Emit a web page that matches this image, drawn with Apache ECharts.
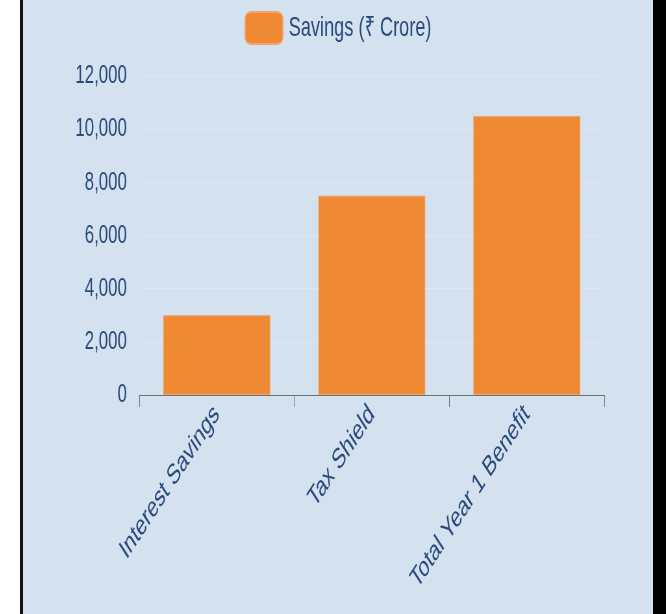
<!DOCTYPE html>
<html>
<head>
<meta charset="utf-8">
<title>Savings</title>
<script src="https://cdn.jsdelivr.net/npm/echarts@6/dist/echarts.min.js"></script>
<style>
  html, body { margin: 0; padding: 0; background: #ffffff; width: 666px; height: 614px; overflow: hidden; }
  #edge-left { position: absolute; left: 20px; top: 0; width: 3px; height: 614px; background: #111111; }
  #edge-right { position: absolute; left: 653px; top: 0; width: 13px; height: 614px; background: #000000; }
  #wrap { position: absolute; left: 23px; top: 0; width: 630px; height: 614px; overflow: hidden; }
  /* the chart is laid out wide and compressed horizontally into the frame */
  #chart { width: 970px; height: 614px; transform: scaleX(0.6495); transform-origin: 0 0; }
</style>
</head>
<body>
<div id="edge-left"></div>
<div id="wrap"><div id="chart"></div></div>
<div id="edge-right"></div>
<script>
// Year-one savings breakdown, in ₹ crore
const seriesName = 'Savings (₹ Crore)';
const categories = ['Interest Savings', 'Tax Shield', 'Total Year 1 Benefit'];
const savings = [3000, 7500, 10500];
const yMin = 0;
const yMax = 12000;
const yStep = 2000;

const textColor = '#2b4a7c';
const font = '"Liberation Sans", Arial, sans-serif';

const chart = echarts.init(document.getElementById('chart'), null, { renderer: 'canvas' });
chart.setOption({
  backgroundColor: '#d4e1ef',
  animation: false,
  legend: {
    data: [seriesName],
    top: 6,
    left: 'center',
    itemWidth: 58,
    itemHeight: 32,
    itemGap: 10,
    icon: 'roundRect',
    textStyle: { color: textColor, fontSize: 28, fontFamily: font, padding: [0, 0, 0, 4] }
  },
  grid: { left: 179, right: 75, top: 76, bottom: 219, containLabel: false },
  xAxis: {
    type: 'category',
    data: categories,
    axisLine: { show: true, lineStyle: { color: '#6e7079', width: 1 } },
    axisTick: { show: true, length: 12, lineStyle: { color: '#6e7079' } },
    axisLabel: {
      rotate: 45,
      margin: 15,
      color: textColor,
      fontSize: 28.5,
      fontFamily: font
    }
  },
  yAxis: {
    type: 'value',
    min: yMin,
    max: yMax,
    interval: yStep,
    axisLine: { show: false },
    axisTick: { show: false },
    splitLine: { lineStyle: { color: '#e0e6f1', width: 1 } },
    axisLabel: {
      margin: 19,
      color: textColor,
      fontSize: 26,
      fontFamily: font,
      formatter: v => v.toLocaleString('en-US')
    }
  },
  series: [{
    name: seriesName,
    type: 'bar',
    data: savings,
    barCategoryGap: '31%',
    itemStyle: { color: '#ef8933', borderColor: '#f3a46a', borderWidth: 1 }
  }]
});
</script>
</body>
</html>
